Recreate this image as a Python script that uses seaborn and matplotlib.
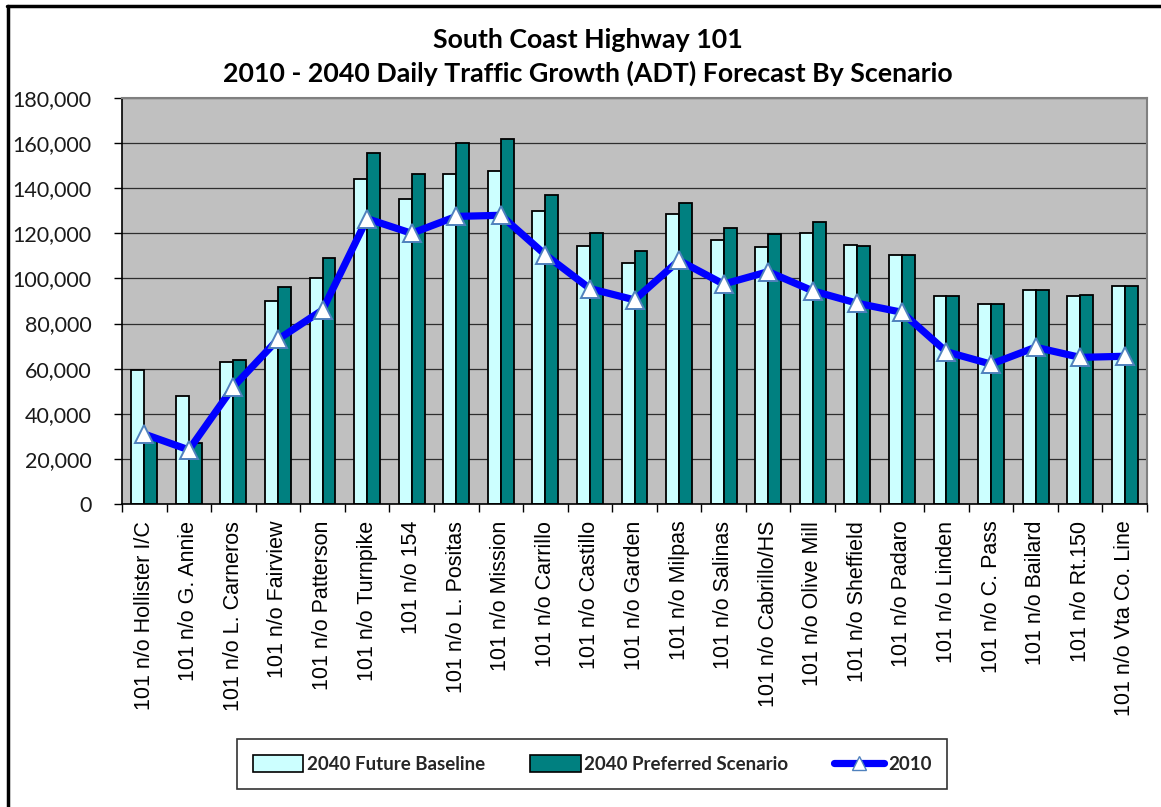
import numpy as np
import pandas as pd
import matplotlib
matplotlib.use("Agg")
import matplotlib.pyplot as plt
from matplotlib.lines import Line2D
from matplotlib.patches import Patch
import seaborn as sns

# ---- data -------------------------------------------------------------
locations = [
    "101 n/o Hollister I/C", "101 n/o G. Annie", "101 n/o L. Carneros",
    "101 n/o Fairview", "101 n/o Patterson", "101 n/o Turnpike",
    "101 n/o 154", "101 n/o L. Positas", "101 n/o Mission",
    "101 n/o Carrillo", "101 n/o Castillo", "101 n/o Garden",
    "101 n/o Milpas", "101 n/o Salinas", "101 n/o Cabrillo/HS",
    "101 n/o Olive Mill", "101 n/o Sheffield", "101 n/o Padaro",
    "101 n/o Linden", "101 n/o C. Pass", "101 n/o Bailard",
    "101 n/o Rt.150", "101 n/o Vta Co. Line",
]
future_baseline = [59500, 48000, 63000, 90000, 100000, 144000, 135000, 146500,
                   147500, 130000, 114500, 107000, 128500, 117000, 114000,
                   120000, 115000, 110500, 92000, 88500, 95000, 92000, 96500]
preferred_scenario = [29000, 27000, 64000, 96000, 109000, 155500, 146500, 160000,
                      162000, 137000, 120000, 112000, 133500, 122500, 119500,
                      125000, 114500, 110500, 92000, 88500, 95000, 92500, 96500]
adt_2010 = [31000, 24000, 52000, 73000, 86000, 126500, 120000, 127500,
            128000, 110500, 95500, 90500, 108000, 97500, 103000,
            94500, 89000, 85000, 67500, 62000, 69500, 65000, 65500]
series_names = ["2040 Future Baseline", "2040 Preferred Scenario"]
line_name = "2010"
y_ticks = list(range(0, 180001, 20000))
title_lines = ["South Coast Highway 101",
               "2010 - 2040 Daily Traffic Growth (ADT) Forecast By Scenario"]

bar_colors = ["#ccffff", "#008080"]

bars = pd.DataFrame({
    "location": locations * 2,
    "scenario": [series_names[0]] * len(locations) + [series_names[1]] * len(locations),
    "adt": future_baseline + preferred_scenario,
})

# ---- figure -----------------------------------------------------------
sns.set_theme(style="white")
plt.rcParams["font.family"] = ["Lato", "DejaVu Sans"]

W, H = 1161, 807
fig = plt.figure(figsize=(W / 100, H / 100), dpi=100)
ax = fig.add_axes([122 / W, 1 - 504 / H, (1147 - 122) / W, (504 - 98) / H])
ax.set_facecolor("#c0c0c0")

sns.barplot(data=bars, x="location", y="adt", hue="scenario",
            palette=bar_colors, width=0.58, gap=0, edgecolor="black",
            linewidth=1.3, saturation=1, ax=ax, legend=False, zorder=2)

pos = np.arange(len(locations))
sns.lineplot(x=pos, y=adt_2010, ax=ax, color="#0000ff", linewidth=5.2,
             marker="^", markersize=12.5, markerfacecolor="white",
             markeredgecolor="#4f81bd", markeredgewidth=1.4, zorder=4)

# axes, grid and ticks
ax.set_ylim(0, 180000)
ax.set_xlim(-0.5, len(locations) - 0.5)
ax.set_yticks(y_ticks)
ax.set_yticklabels([f"{v:,}" for v in y_ticks], fontsize=15.5, color="#1a1a1a")
ax.yaxis.grid(True, color="#2e2e2e", linewidth=0.9, zorder=0)
ax.set_axisbelow(True)
ax.tick_params(axis="y", which="major", direction="out", length=6, width=1,
               color="black", pad=16, left=True)

ax.set_xticks(pos)
ax.set_xticklabels(locations, rotation=90, fontsize=15.5,
                   family=["Liberation Sans", "DejaVu Sans"], color="black")
ax.set_xticks(np.arange(-0.5, len(locations), 1), minor=True)
ax.tick_params(axis="x", which="major", length=0, pad=12)
ax.tick_params(axis="x", which="minor", direction="out", length=6, width=1,
               color="black", bottom=True)
ax.set_xlabel("")
ax.set_ylabel("")

for side in ("left", "bottom"):
    ax.spines[side].set_color("black")
    ax.spines[side].set_linewidth(1.2)
for side in ("top", "right"):
    ax.spines[side].set_color("#808080")
    ax.spines[side].set_linewidth(1.5)

# title
fig.text(588 / W, 1 - 40 / H, title_lines[0], ha="center", va="center",
         fontsize=19.3, fontweight="bold", color="black")
fig.text(588 / W, 1 - 73 / H, title_lines[1], ha="center", va="center",
         fontsize=19.3, fontweight="bold", color="black")

# legend
handles = [
    Patch(facecolor=bar_colors[0], edgecolor="black", linewidth=1.2),
    Patch(facecolor=bar_colors[1], edgecolor="black", linewidth=1.2),
    Line2D([], [], color="#0000ff", linewidth=5.2, marker="^", markersize=10,
           markerfacecolor="white", markeredgecolor="#4f81bd"),
]
leg = fig.legend(handles, series_names + [line_name], loc="center",
                 bbox_to_anchor=(592 / W, 1 - 764 / H), ncol=3,
                 frameon=True, fancybox=False, edgecolor="black",
                 prop={"weight": "bold", "size": 13.5},
                 handlelength=2.7, handleheight=1.0, handletextpad=0.2,
                 columnspacing=2.4, borderpad=0.85)
leg.get_frame().set_linewidth(1.2)

# outer frame (top and left)
fig.add_artist(Line2D([7 / W, 1], [1 - 6 / H, 1 - 6 / H], color="black",
                      linewidth=2.5, transform=fig.transFigure))
fig.add_artist(Line2D([8 / W, 8 / W], [0, 1 - 6 / H], color="black",
                      linewidth=2.5, transform=fig.transFigure))

fig.savefig("out.png", dpi=100, facecolor="white")
